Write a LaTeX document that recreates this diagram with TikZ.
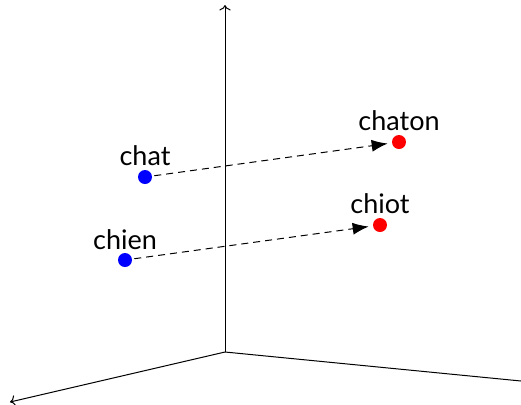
\documentclass[tikz,border=0pt]{standalone}
\usepackage{fontspec}
\setmainfont{Lato}
\usetikzlibrary{arrows.meta,positioning}

\tikzset{
  axis/.style={->, line width=0.5pt},
  word/.style={circle, fill=#1, inner sep=0pt, minimum size=7pt},
  offset/.style={dash pattern=on 3.5pt off 2.5pt, line width=0.5pt, -{Latex[length=8pt,width=6pt]}, shorten >=2pt, shorten <=1pt},
  wordlabel/.style={inner sep=1pt, font=\fontsize{13.5}{16}\selectfont}
}

\begin{document}
\begin{tikzpicture}[x=0.5pt, y=-0.5pt]
\useasboundingbox (0,0) rectangle (521,404);

% axes
\coordinate (o) at (225,352);
\coordinate (up) at (225,5);
\coordinate (left) at (10,402);
\coordinate (right) at (521,381);
\draw[axis] (o) -- (up);
\draw[axis] (o) -- (left);
\draw[line width=0.5pt] (o) -- (right);

% words
\node[word=blue] (chat) at (145,177) {};
\node[word=blue] (chien) at (125,260) {};
\node[word=red] (chaton) at (399,142) {};
\node[word=red] (chiot) at (380,225) {};

\node[wordlabel, above=0.5pt of chat] {chat};
\node[wordlabel, above=0.5pt of chien] {chien};
\node[wordlabel, above=0.5pt of chaton] {chaton};
\node[wordlabel, above=0.5pt of chiot] {chiot};

% offsets
\draw[offset] (chat) -- (chaton);
\draw[offset] (chien) -- (chiot);

\end{tikzpicture}
\end{document}
